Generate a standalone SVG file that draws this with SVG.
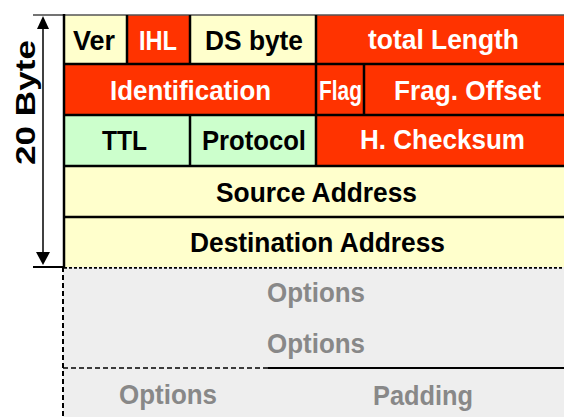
<svg xmlns="http://www.w3.org/2000/svg" width="564" height="417" viewBox="0 0 564 417">
  <style>
    .yel { fill: #ffffcc; }
    .red { fill: #ff3300; }
    .grn { fill: #ccffcc; }
    .opt { fill: #eeeeee; }
    .sep { stroke: #000; stroke-width: 2.5; fill: none; }
    .lbl { font-family: "Liberation Sans", Arial, sans-serif; font-weight: bold; font-size: 28px; }
    .dark { fill: #000; }
    .light { fill: #fff; }
    .grey { fill: #888; }
    .dash { stroke: #000; fill: none; }
  </style>

  <rect width="564" height="417" fill="#fff"/>

  <!-- Size bracket: 20 Byte -->
  <g id="size-bracket">
    <line x1="33" y1="15" x2="64" y2="15" stroke="#444" stroke-width="1.5"/>
    <line x1="33" y1="267" x2="64" y2="267" stroke="#000" stroke-width="2"/>
    <line x1="43" y1="24" x2="43" y2="258" stroke="#000" stroke-width="1.5"/>
    <polygon points="43,16 37,29 49,29" fill="#000"/>
    <polygon points="43,265 36,252 50,252" fill="#000"/>
    <text class="lbl dark" font-size="29" transform="translate(35,165) rotate(-90)" textLength="125" lengthAdjust="spacingAndGlyphs">20 Byte</text>
  </g>

  <!-- Optional part of the header -->
  <g id="options">
    <rect class="opt" x="63" y="267" width="501" height="150"/>
    <line class="dash" x1="63" y1="267" x2="63" y2="417" stroke-width="2" stroke-dasharray="5,3"/>
    <line class="dash" x1="64" y1="267.5" x2="564" y2="267.5" stroke-width="2.5" stroke-dasharray="3,2"/>
    <line class="dash" x1="63" y1="368" x2="268" y2="368" stroke-width="1.5" stroke-dasharray="5,3"/>
    <line x1="268" y1="368" x2="564" y2="368" stroke="#000" stroke-width="2"/>
    <text class="lbl grey" x="267" y="302" textLength="98" lengthAdjust="spacingAndGlyphs">Options</text>
    <text class="lbl grey" x="267" y="353" textLength="98" lengthAdjust="spacingAndGlyphs">Options</text>
    <text class="lbl grey" x="119" y="404" textLength="98" lengthAdjust="spacingAndGlyphs">Options</text>
    <text class="lbl grey" x="373" y="405" textLength="100" lengthAdjust="spacingAndGlyphs">Padding</text>
  </g>

  <!-- Row 1 -->
  <g id="ver">
    <rect class="yel" x="64" y="15" width="63" height="49"/>
    <text class="lbl dark" x="73" y="50" textLength="42" lengthAdjust="spacingAndGlyphs">Ver</text>
  </g>
  <g id="ihl">
    <rect class="red" x="127" y="15" width="63" height="49"/>
    <text class="lbl light" x="139" y="50" textLength="38" lengthAdjust="spacingAndGlyphs">IHL</text>
  </g>
  <g id="ds-byte">
    <rect class="yel" x="190" y="15" width="126" height="49"/>
    <text class="lbl dark" x="205" y="50" textLength="98" lengthAdjust="spacingAndGlyphs">DS byte</text>
  </g>
  <g id="total-length">
    <rect class="red" x="316" y="15" width="248" height="49"/>
    <text class="lbl light" x="368" y="49" textLength="151" lengthAdjust="spacingAndGlyphs">total Length</text>
  </g>

  <!-- Row 2 -->
  <g id="identification">
    <rect class="red" x="64" y="64" width="252" height="51"/>
    <text class="lbl light" x="110" y="100" textLength="161" lengthAdjust="spacingAndGlyphs">Identification</text>
  </g>
  <g id="flag">
    <rect class="red" x="316" y="64" width="48" height="51"/>
    <text class="lbl light" font-size="24" x="319" y="100" textLength="43" lengthAdjust="spacingAndGlyphs">Flag</text>
  </g>
  <g id="frag-offset">
    <rect class="red" x="364" y="64" width="200" height="51"/>
    <text class="lbl light" x="394" y="100" textLength="147" lengthAdjust="spacingAndGlyphs">Frag. Offset</text>
  </g>

  <!-- Row 3 -->
  <g id="ttl">
    <rect class="grn" x="64" y="115" width="126" height="51"/>
    <text class="lbl dark" x="102" y="150" textLength="45" lengthAdjust="spacingAndGlyphs">TTL</text>
  </g>
  <g id="protocol">
    <rect class="grn" x="190" y="115" width="126" height="51"/>
    <text class="lbl dark" x="202" y="150" textLength="104" lengthAdjust="spacingAndGlyphs">Protocol</text>
  </g>
  <g id="checksum">
    <rect class="red" x="316" y="115" width="248" height="51"/>
    <text class="lbl light" x="360" y="149" textLength="165" lengthAdjust="spacingAndGlyphs">H. Checksum</text>
  </g>

  <!-- Rows 4 and 5 -->
  <g id="source-address">
    <rect class="yel" x="64" y="166" width="500" height="51"/>
    <text class="lbl dark" x="216" y="202" textLength="201" lengthAdjust="spacingAndGlyphs">Source Address</text>
  </g>
  <g id="destination-address">
    <rect class="yel" x="64" y="217" width="500" height="50"/>
    <text class="lbl dark" x="190" y="252" textLength="255" lengthAdjust="spacingAndGlyphs">Destination Address</text>
  </g>

  <!-- Cell borders -->
  <g id="borders">
    <line x1="64" y1="15" x2="564" y2="15" stroke="#555" stroke-width="1.5"/>
    <line class="sep" x1="64" y1="14" x2="64" y2="267"/>
    <line class="sep" x1="64" y1="64" x2="564" y2="64"/>
    <line class="sep" x1="64" y1="115" x2="564" y2="115"/>
    <line class="sep" x1="64" y1="166" x2="564" y2="166"/>
    <line class="sep" x1="64" y1="217" x2="564" y2="217"/>
    <line class="sep" x1="127" y1="15" x2="127" y2="64"/>
    <line class="sep" x1="190" y1="15" x2="190" y2="64"/>
    <line class="sep" x1="316" y1="15" x2="316" y2="166"/>
    <line class="sep" x1="364" y1="64" x2="364" y2="115"/>
    <line class="sep" x1="190" y1="115" x2="190" y2="166"/>
  </g>
</svg>
